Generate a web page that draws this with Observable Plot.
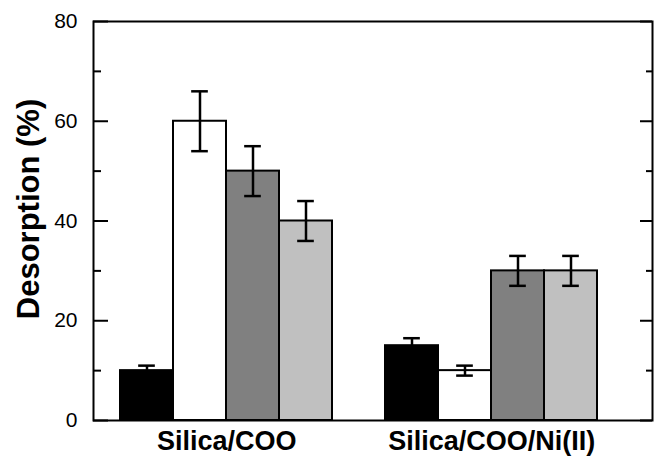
<!DOCTYPE html>
<html>
<head>
<meta charset="utf-8">
<script src="https://cdn.jsdelivr.net/npm/d3@7"></script>
<script src="https://cdn.jsdelivr.net/npm/@observablehq/plot@0.6"></script>
<style>
  html, body { margin: 0; padding: 0; background: #fff; }
  #chart svg { display: block; }
</style>
</head>
<body>
<div id="chart"></div>
<script>
// ---- data ----
const groups = ["Silica/COO", "Silica/COO/Ni(II)"];
const series = ["S1", "S2", "S3", "S4"];
const seriesColors = ["#000000", "#ffffff", "#808080", "#c0c0c0"];
const valuesSilicaCOO = [10, 60, 50, 40];
const errorsSilicaCOO = [1, 6, 5, 4];
const valuesSilicaCOONi = [15, 10, 30, 30];
const errorsSilicaCOONi = [1.5, 1, 3, 3];
const yMajorTicks = [0, 20, 40, 60, 80];
const yMinorTicks = [10, 30, 50, 70];
const yLabel = "Desorption (%)";

// ---- table ----
const groupValues = [valuesSilicaCOO, valuesSilicaCOONi];
const groupErrors = [errorsSilicaCOO, errorsSilicaCOONi];
const rows = [];
groups.forEach((g, gi) => series.forEach((s, si) => rows.push({
  group: g, series: s, key: g + "|" + s,
  value: groupValues[gi][si], err: groupErrors[gi][si]
})));
const xDomain = [];
groups.forEach((g, gi) => {
  if (gi > 0) xDomain.push("gap" + gi);
  series.forEach(s => xDomain.push(g + "|" + s));
});
const groupLabels = groups.map(g => ({group: g, key: g + "|" + series[1]}));

const W = 654, H = 464;
const mL = 93, mR = 2, insL = 25, insR = 54;
const bw = (W - mL - mR - insL - insR) / xDomain.length;

const chart = Plot.plot({
  width: W,
  height: H,
  marginTop: 21,
  marginBottom: 44,
  marginLeft: mL,
  marginRight: mR,
  style: {fontFamily: "'Liberation Sans', Arial, sans-serif", background: "#fff", color: "#000"},
  x: {type: "band", domain: xDomain, padding: 0, insetLeft: insL, insetRight: insR, axis: null},
  y: {domain: [0, 80], axis: null},
  color: {domain: series, range: seriesColors},
  marks: [
    Plot.barY(rows, {x: "key", y: "value", fill: "series", stroke: "#000", strokeWidth: 2, insetLeft: 0, insetRight: 0}),
    Plot.ruleX(rows, {x: "key", y1: d => d.value - d.err, y2: d => d.value + d.err, stroke: "#000", strokeWidth: 2.5}),
    Plot.tickY(rows, {x: "key", y: d => d.value + d.err, stroke: "#000", strokeWidth: 2.5, insetLeft: (bw - 17) / 2, insetRight: (bw - 17) / 2}),
    Plot.tickY(rows, {x: "key", y: d => d.value - d.err, stroke: "#000", strokeWidth: 2.5, insetLeft: (bw - 17) / 2, insetRight: (bw - 17) / 2}),
    // left ticks (inward)
    Plot.tickY(yMajorTicks, {y: d => d, stroke: "#000", strokeWidth: 2, insetRight: W - mL - mR - 15}),
    Plot.tickY(yMinorTicks, {y: d => d, stroke: "#000", strokeWidth: 2, insetRight: W - mL - mR - 8}),
    // right ticks (inward)
    Plot.tickY(yMajorTicks, {y: d => d, stroke: "#000", strokeWidth: 2, insetLeft: W - mL - mR - 12}),
    Plot.tickY(yMinorTicks, {y: d => d, stroke: "#000", strokeWidth: 2, insetLeft: W - mL - mR - 6}),
    Plot.axisY({ticks: yMajorTicks, tickSize: 0, tickPadding: 16, fontSize: 21, label: null}),
    Plot.frame({stroke: "#000", strokeWidth: 2}),
    Plot.text(groupLabels, {x: "key", text: "group", frameAnchor: "bottom", dx: bw / 2, dy: 29, fontSize: 27, fontWeight: "bold", fill: "#000"}),
    Plot.text([yLabel], {text: d => d, frameAnchor: "left", textAnchor: "middle", rotate: -90, dx: -64, dy: -12, fontSize: 31, fontWeight: "bold", fill: "#000"})
  ]
});
document.getElementById("chart").appendChild(chart);
</script>
</body>
</html>
